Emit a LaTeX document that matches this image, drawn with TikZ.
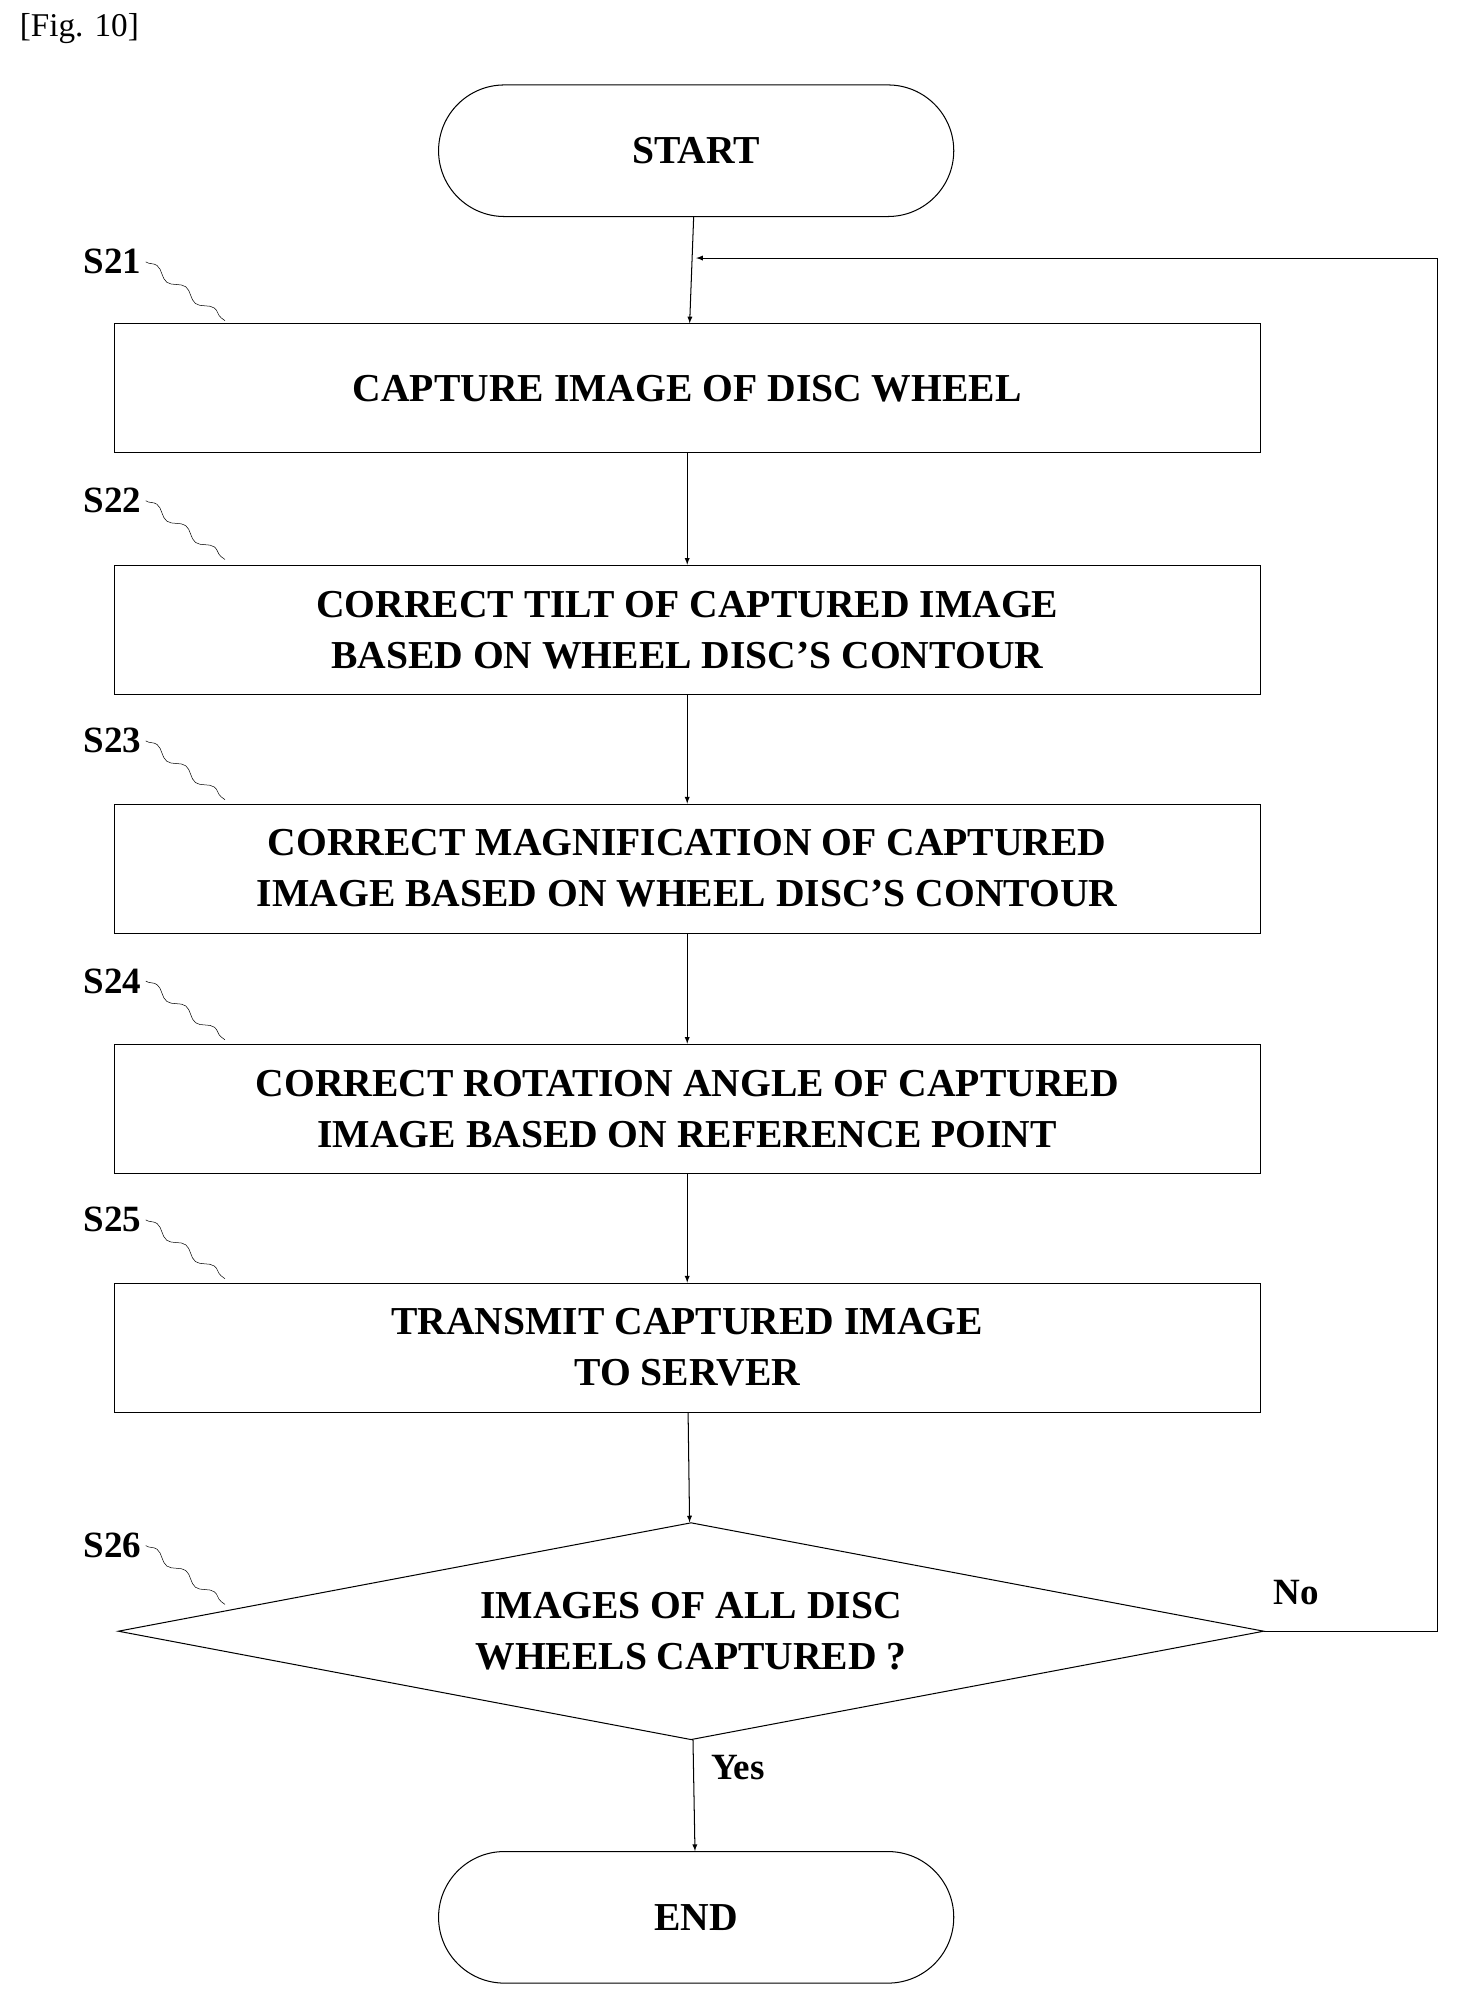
\documentclass[tikz,border=0pt]{standalone}
\usepackage{fontspec}
\setmainfont{Liberation Serif}
\usetikzlibrary{arrows,positioning,shapes.geometric,shapes.misc,decorations.pathmorphing}
\begin{document}
\begin{tikzpicture}
	 [> = latex, x=1pt, y=-1pt,
	every node/.style={font=\fontsize{31}{40}\selectfont\bfseries},
	term/.style = {draw, thick, rounded rectangle, minimum width=410pt, minimum height=103pt},
	proc/.style = {draw, thick, rectangle, minimum width=897pt, minimum height=101pt, align=center},
	check/.style = {draw, thick, diamond, aspect=5.28, minimum width=897pt, minimum height=170pt, inner sep=0pt, align=center},
	flow/.style = {->, thick},
	tag/.style = {font=\fontsize{29}{36}\selectfont\bfseries},
	wave/.style = {decorate, decoration={snake, amplitude=3pt, segment length=28pt}}
	]
	\useasboundingbox (0,0) rectangle (1140,1572);
	\node[font=\fontsize{26}{30}\selectfont, anchor=west] (fig) at (12,22) {[Fig. 10]};

	\node[term] (start) at (545,118) {START};
	\node[proc] (s21) at (538,304) {CAPTURE IMAGE OF DISC WHEEL};
	\node[proc] (s22) at (538,493) {CORRECT TILT OF CAPTURED IMAGE\\BASED ON WHEEL DISC'S CONTOUR};
	\node[proc] (s23) at (538,680) {CORRECT MAGNIFICATION OF CAPTURED\\IMAGE BASED ON WHEEL DISC'S CONTOUR};
	\node[proc] (s24) at (538,868) {CORRECT ROTATION ANGLE OF CAPTURED\\IMAGE BASED ON REFERENCE POINT};
	\node[proc] (s25) at (538,1055) {TRANSMIT CAPTURED IMAGE\\TO SERVER};
	\node[check] (s26) at (541,1277) {IMAGES OF ALL DISC\\WHEELS CAPTURED ?};
	\node[term] (end) at (545,1501) {END};

	% step labels
	\foreach \s/\y in {21/205, 22/392, 23/580, 24/768, 25/955, 26/1210} {
		\node[tag] (l\s) at (88,\y) {S\s};
		\draw[wave] (l\s.east) -- ++(62,46);
	}

	\coordinate (loop) at (545,202);
	\coordinate (back) at (1125,1277);
	\draw[flow] (start) -- (s21);
	\draw[flow] (s21) -- (s22);
	\draw[flow] (s22) -- (s23);
	\draw[flow] (s23) -- (s24);
	\draw[flow] (s24) -- (s25);
	\draw[flow] (s25) -- (s26);
	\draw[flow] (s26) -- node[tag, right=10pt, pos=0.25] (yes) {Yes} (end);
	\draw[flow] (s26.east) -- (back) |- (loop);
	\node[tag] (no) at (1015,1247) {No};
\end{tikzpicture}
\end{document}
